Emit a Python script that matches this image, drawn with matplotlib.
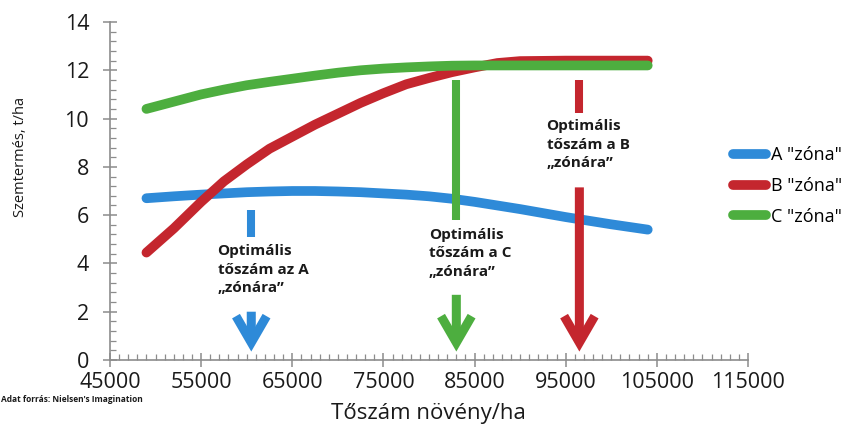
import matplotlib
matplotlib.use("Agg")
import matplotlib.pyplot as plt
from matplotlib.ticker import MultipleLocator

BLUE = "#2E8AD8"
RED = "#C4262E"
GREEN = "#4DAE3F"
AXIS_GRAY = "#8C8C8C"

plt.rcParams.update({
    "font.family": ["Open Sans", "DejaVu Sans"],
    "figure.dpi": 100,
})

# values
tosz = [49000, 50500, 52000, 55000, 57500, 60000, 62500, 65000, 67500, 70000, 72500,
        75000, 77500, 80000, 82500, 85000, 87500, 90000, 95000, 100000, 104000]
zona_a = [6.70, 6.74, 6.78, 6.85, 6.90, 6.95, 6.98, 7.00, 7.00, 6.98, 6.95,
          6.90, 6.85, 6.78, 6.68, 6.55, 6.40, 6.25, 5.92, 5.62, 5.40]
zona_b = [4.45, 4.95, 5.45, 6.55, 7.40, 8.10, 8.75, 9.25, 9.75, 10.20, 10.65,
          11.05, 11.42, 11.68, 11.92, 12.12, 12.30, 12.38, 12.40, 12.40, 12.40]
zona_c = [10.40, 10.55, 10.70, 11.00, 11.20, 11.38, 11.52, 11.65, 11.78, 11.90, 12.00,
          12.07, 12.12, 12.16, 12.19, 12.20, 12.20, 12.20, 12.20, 12.20, 12.20]
series_labels = ['A "zóna"', 'B "zóna"', 'C "zóna"']

# optimum markers: x position, upper segment (top, bottom), arrow (start, tip)
opt_x = [60500, 96500, 83000]
opt_seg = [(6.20, 5.10), (11.60, 10.25), (11.60, 5.80)]
opt_arrow = [(2.00, 0.35), (7.15, 0.35), (2.70, 0.35)]
opt_text = ["Optimális\ntőszám az A\n„zónára”",
            "Optimális\ntőszám a B\n„zónára”",
            "Optimális\ntőszám a C\n„zónára”"]
opt_text_pos = [(56800, 4.80), (92900, 9.97), (80000, 5.47)]

xticks = [45000, 55000, 65000, 75000, 85000, 95000, 105000, 115000]
yticks = [0, 2, 4, 6, 8, 10, 12, 14]

fig = plt.figure(figsize=(8.56, 4.33))
ax = fig.add_axes([0.1285, 0.1686, 0.7453, 0.7806])

colors = [BLUE, RED, GREEN]
for vals, col, lbl in zip([zona_a, zona_b, zona_c], colors, series_labels):
    ax.plot(tosz, vals, color=col, lw=7, solid_capstyle="round",
            solid_joinstyle="round", label=lbl, zorder=3)

for x, (s0, s1), (a0, a1), col, txt, (tx, ty) in zip(
        opt_x, opt_seg, opt_arrow, colors, opt_text, opt_text_pos):
    ax.plot([x, x], [s0, s1], color=col, lw=5.8, solid_capstyle="butt", zorder=4)
    ax.annotate("", xy=(x, a1), xytext=(x, a0),
                arrowprops=dict(arrowstyle="->,head_length=0.95,head_width=0.55",
                                mutation_scale=20, color=col, lw=6.5,
                                shrinkA=0, shrinkB=0, capstyle="butt",
                                joinstyle="miter"),
                zorder=4)
    ax.text(tx, ty, txt, fontsize=11, fontweight="bold", color="#1a1a1a",
            ha="left", va="top", linespacing=1.4, zorder=5)

ax.set_xlim(45000, 115000)
ax.set_ylim(0, 14)
ax.set_xticks(xticks)
ax.set_yticks(yticks)
ax.xaxis.set_minor_locator(MultipleLocator(1000))
ax.yaxis.set_minor_locator(MultipleLocator(0.4))

for s in ["top", "right"]:
    ax.spines[s].set_visible(False)
for s in ["left", "bottom"]:
    ax.spines[s].set_color(AXIS_GRAY)
    ax.spines[s].set_linewidth(1.2)

ax.tick_params(which="major", direction="inout", length=10, width=1.1,
               color=AXIS_GRAY, labelsize=15.5, labelcolor="#1a1a1a")
ax.tick_params(axis="y", which="major", pad=10)
ax.tick_params(axis="x", which="major", pad=4)
ax.tick_params(which="minor", direction="in", length=4, width=0.9, color=AXIS_GRAY)

fig.text(21 / 856, 1 - 157 / 433, "Szemtermés, t/ha", rotation=90,
         ha="center", va="center", fontsize=10.5, color="#1a1a1a")
fig.text(428 / 856, 1 - 414 / 433, "Tőszám növény/ha", ha="center", va="center",
         fontsize=16, color="#1a1a1a")
fig.text(0.001, 1 - 400 / 433, "Adat forrás: Nielsen's Imagination", ha="left",
         va="center", fontsize=6, fontweight="bold", color="#1a1a1a")

leg = fig.legend(loc="center left", bbox_to_anchor=(733 / 856, 1 - 186 / 433),
                 frameon=False, fontsize=13, handlelength=1.8, handletextpad=0.3,
                 labelspacing=0.7, borderaxespad=0, borderpad=0)
for line in leg.get_lines():
    line.set_linewidth(7)
    line.set_solid_capstyle("round")

fig.savefig("out.png", dpi=100)
